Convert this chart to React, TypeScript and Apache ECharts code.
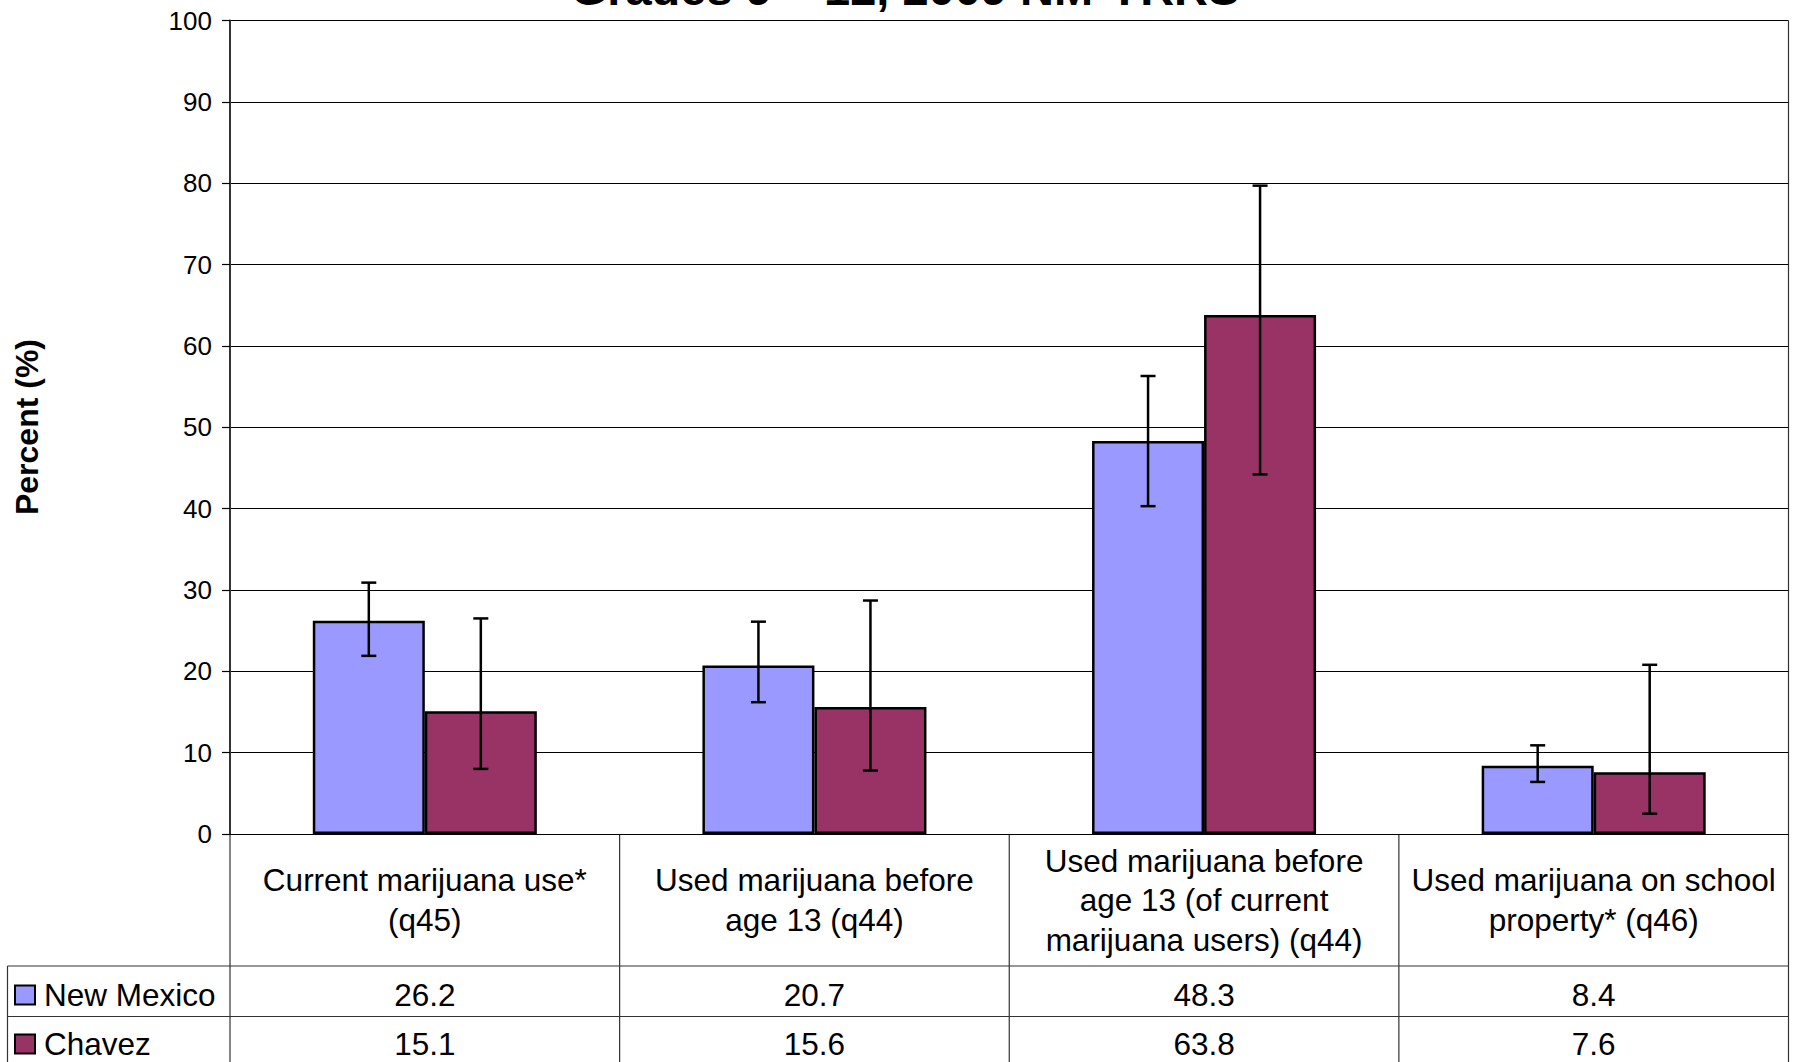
import React, { useEffect, useRef } from "react";
import * as echarts from "echarts";

const categories = [
  "Current marijuana use*\n(q45)",
  "Used marijuana before\nage 13 (q44)",
  "Used marijuana before\nage 13 (of current\nmarijuana users) (q44)",
  "Used marijuana on school\nproperty* (q46)",
];
const seriesNames = ["New Mexico", "Chavez"];
const newMexico = [26.2, 20.7, 48.3, 8.4];
const chavez = [15.1, 15.6, 63.8, 7.6];
const newMexicoCI = [
  [21.9, 30.9],
  [16.2, 26.1],
  [40.3, 56.3],
  [6.4, 10.9],
];
const chavezCI = [
  [8.0, 26.5],
  [7.8, 28.7],
  [44.2, 79.7],
  [2.5, 20.8],
];
const yTicks = { min: 0, max: 100, interval: 10 };
const titleText = "Grades 9 – 12, 2009 NM-YRRS";
const yAxisTitle = "Percent (%)";

const W = 1801;
const H = 1062;
const GRID_LEFT = 230;
const GRID_RIGHT_X = 1788.5;
const GRID_TOP = 20.5;
const GRID_BOTTOM_Y = 834;
const CAT_GAP = 0.425;
const COLORS = ["#9999FF", "#993366"];
const FONT = "Arial, 'Liberation Sans', sans-serif";
const LINE = "#333333";
const TABLE_FONT = 31.5;

export default function App() {
  const ref = useRef<HTMLDivElement>(null);
  useEffect(() => {
    if (!ref.current) return;
    const chart = echarts.init(ref.current, null, { renderer: "svg" });

    const errSeries = (ci: number[][], sign: number) => ({
      type: "custom",
      silent: true,
      z: 10,
      data: ci.map((d, i) => [i, d[0], d[1]]),
      encode: { x: 0, y: [1, 2] },
      renderItem: (params: any, api: any) => {
        const idx = api.value(0);
        const lo = api.coord([idx, api.value(1)]);
        const hi = api.coord([idx, api.value(2)]);
        const band = api.size([1, 0])[0];
        const barW = (band * (1 - CAT_GAP)) / 2;
        const x = lo[0] + (sign * barW) / 2;
        const cap = 7.5;
        const style = { stroke: "#000", lineWidth: 2.5 };
        return {
          type: "group",
          children: [
            { type: "line", shape: { x1: x, y1: lo[1], x2: x, y2: hi[1] }, style },
            { type: "line", shape: { x1: x - cap, y1: lo[1], x2: x + cap, y2: lo[1] }, style },
            { type: "line", shape: { x1: x - cap, y1: hi[1], x2: x + cap, y2: hi[1] }, style },
          ],
        };
      },
    });

    const n = categories.length;
    const colW = (GRID_RIGHT_X - GRID_LEFT) / n;
    const row1Top = 966;
    const row2Top = 1016.5;
    const tableLeft = 7.5;
    const graphics: any[] = [];
    const lineEl = (x1: number, y1: number, x2: number, y2: number, w = 1.2) => ({
      type: "line",
      silent: true,
      shape: { x1, y1, x2, y2 },
      style: { stroke: LINE, lineWidth: w },
    });
    // title (partly above the visible area, as in the reference)
    graphics.push({
      type: "text",
      x: 905,
      y: -12,
      style: {
        text: titleText,
        font: `bold 47px ${FONT}`,
        fill: "#000",
        align: "center",
        verticalAlign: "middle",
      },
    });
    // y axis title
    graphics.push({
      type: "text",
      x: 27,
      y: 427,
      rotation: Math.PI / 2,
      style: {
        text: yAxisTitle,
        font: `bold 32px ${FONT}`,
        fill: "#000",
        align: "center",
        verticalAlign: "middle",
      },
    });
    // table lines
    graphics.push(lineEl(tableLeft, row1Top, GRID_RIGHT_X, row1Top));
    graphics.push(lineEl(tableLeft, row2Top, GRID_RIGHT_X, row2Top));
    graphics.push(lineEl(tableLeft, row1Top, tableLeft, H));
    for (let i = 0; i <= n; i++) {
      const x = GRID_LEFT + i * colW;
      graphics.push(lineEl(x, i === n ? GRID_TOP : GRID_BOTTOM_Y, x, H));
    }
    // category header texts
    categories.forEach((c, i) => {
      graphics.push({
        type: "text",
        x: GRID_LEFT + (i + 0.5) * colW,
        y: (GRID_BOTTOM_Y + row1Top) / 2,
        style: {
          text: c,
          font: `${TABLE_FONT}px ${FONT}`,
          lineHeight: 39.5,
          fill: "#000",
          align: "center",
          verticalAlign: "middle",
        },
      });
    });
    // value rows
    const rows = [newMexico, chavez];
    const rowCenters = [995, 1044];
    rows.forEach((vals, r) => {
      graphics.push({
        type: "rect",
        shape: { x: 15, y: rowCenters[r] - 9.5, width: 20, height: 19 },
        style: { fill: COLORS[r], stroke: "#000", lineWidth: 2 },
      });
      graphics.push({
        type: "text",
        x: 44,
        y: rowCenters[r],
        style: {
          text: seriesNames[r],
          font: `${TABLE_FONT}px ${FONT}`,
          fill: "#000",
          align: "left",
          verticalAlign: "middle",
        },
      });
      vals.forEach((v, i) => {
        graphics.push({
          type: "text",
          x: GRID_LEFT + (i + 0.5) * colW,
          y: rowCenters[r],
          style: {
            text: v.toFixed(1),
            font: `${TABLE_FONT}px ${FONT}`,
            fill: "#000",
            align: "center",
            verticalAlign: "middle",
          },
        });
      });
    });

    chart.setOption({
      animation: false,
      backgroundColor: "#fff",
      grid: {
        left: GRID_LEFT,
        right: W - GRID_RIGHT_X,
        top: GRID_TOP,
        bottom: H - GRID_BOTTOM_Y,
        containLabel: false,
      },
      xAxis: {
        type: "category",
        data: categories,
        axisLine: { show: true, lineStyle: { color: "#000", width: 1.2 } },
        axisTick: { show: false },
        axisLabel: { show: false },
        splitLine: { show: false },
      },
      yAxis: {
        type: "value",
        min: yTicks.min,
        max: yTicks.max,
        interval: yTicks.interval,
        axisLine: { show: true, lineStyle: { color: "#333", width: 2 } },
        axisTick: { show: true, length: 8, lineStyle: { color: "#000", width: 1.2 } },
        axisLabel: { fontSize: 26, fontFamily: FONT, color: "#000", margin: 18 },
        splitLine: { show: true, lineStyle: { color: "#000", width: 1.2 } },
      },
      series: [
        {
          name: seriesNames[0],
          type: "bar",
          data: newMexico,
          barGap: "0%",
          barCategoryGap: `${CAT_GAP * 100}%`,
          itemStyle: { color: COLORS[0], borderColor: "#000", borderWidth: 2.5 },
        },
        {
          name: seriesNames[1],
          type: "bar",
          data: chavez,
          barGap: "0%",
          barCategoryGap: `${CAT_GAP * 100}%`,
          itemStyle: { color: COLORS[1], borderColor: "#000", borderWidth: 2.5 },
        },
        errSeries(newMexicoCI, -1),
        errSeries(chavezCI, 1),
      ],
      graphic: graphics,
    });
    return () => chart.dispose();
  }, []);
  return (
    <div
      ref={ref}
      style={{ position: "fixed", left: 0, top: 0, width: W, height: H, background: "#fff" }}
    />
  );
}
